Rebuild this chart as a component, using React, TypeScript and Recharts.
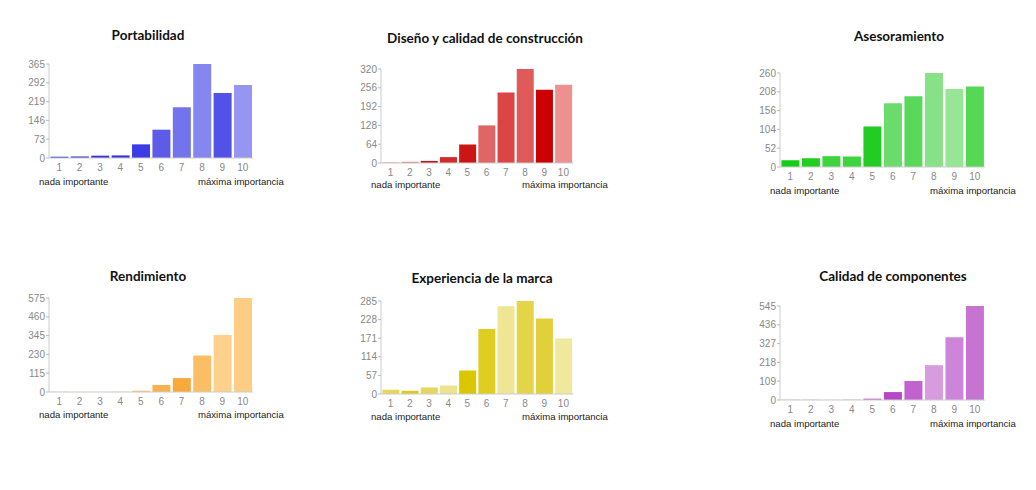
import React from 'react';
import { BarChart, Bar, XAxis, YAxis, Cell } from 'recharts';

const categories = ['1', '2', '3', '4', '5', '6', '7', '8', '9', '10'];

const portabilidad = [5, 6, 9, 10, 53, 110, 197, 365, 252, 283];
const diseno = [2, 4, 7, 20, 63, 128, 240, 320, 249, 266];
const asesoramiento = [19, 24, 30, 29, 112, 176, 196, 260, 216, 223];
const rendimiento = [2, 1, 1, 2, 8, 43, 85, 223, 348, 575];
const experiencia = [13, 10, 20, 26, 72, 199, 269, 285, 231, 170];
const componentes = [1, 2, 1, 2, 8, 46, 110, 202, 364, 545];

const titles = [
  'Portabilidad',
  'Diseño y calidad de construcción',
  'Asesoramiento',
  'Rendimiento',
  'Experiencia de la marca',
  'Calidad de componentes',
];
const yMaxes = [365, 320, 260, 575, 285, 545];
const lowLabel = 'nada importante';
const highLabel = 'máxima importancia';

const palettes = [
  ['#3a3ad8', '#3a3ad8', '#3535d6', '#3535d6', '#3c3ce6', '#5c5ce8', '#7373ec', '#8686f0', '#5252e6', '#9696f2'],
  ['#e08080', '#e07070', '#cc1010', '#d42a2a', '#cc1515', '#e06666', '#dc4545', '#e05a5a', '#cc0000', '#ec9090'],
  ['#16cc16', '#1fcf1f', '#3dd43d', '#3dd43d', '#22cc22', '#6bdc6b', '#5ad85a', '#87e287', '#96e696', '#55d955'],
  ['#fcd08a', '#fcd08a', '#fcd08a', '#fcd08a', '#fbbf66', '#f9b24e', '#f7a93a', '#fbbe66', '#fdd08c', '#fdcd84'],
  ['#e6d65a', '#dccb20', '#e5d65e', '#ece38c', '#dbc600', '#e0cd22', '#efe695', '#e4d548', '#e2d03a', '#f0e89c'],
  ['#c880d4', '#c880d4', '#c880d4', '#c880d4', '#c263d0', '#b948c8', '#c262d0', '#d89be0', '#cd85d9', '#c673d2'],
];

const seriesList = [portabilidad, diseno, asesoramiento, rendimiento, experiencia, componentes];

// layout: plot box [x0, x1, yTop, yBottom], title center [x, y], label lefts & y
const layouts = [
  { plot: [49, 253, 64, 158], title: [148, 35], labels: [39, 198, 182] },
  { plot: [381, 573, 69, 163], title: [485, 38], labels: [371, 522, 185] },
  { plot: [780, 985, 73, 167], title: [899, 36], labels: [770, 930, 191] },
  { plot: [49, 253, 298, 392], title: [148, 276], labels: [39, 198, 415] },
  { plot: [381, 573, 301, 394], title: [482, 278], labels: [371, 522, 417] },
  { plot: [780, 985, 306, 400], title: [893, 276], labels: [770, 930, 424] },
];

const Y_W = 30;
const M_TOP = 5;
const M_RIGHT = 5;
const X_H = 22;

function Panel({ idx }: { idx: number }) {
  const lay = layouts[idx];
  const [x0, x1, yt, yb] = lay.plot;
  const values = seriesList[idx];
  const data = categories.map((c, i) => ({ cat: c, v: values[i] }));
  const max = yMaxes[idx];
  const ticks = [0, 1, 2, 3, 4, 5].map((k) => Math.round((max * k) / 5));
  const width = x1 - x0 + Y_W + M_RIGHT;
  const height = yb - yt + M_TOP + X_H;
  const pal = palettes[idx];
  const labelStyle: React.CSSProperties = {
    position: 'absolute',
    top: lay.labels[2] - 7,
    fontFamily: 'Liberation Sans, Arial, sans-serif',
    fontSize: 9.6,
    lineHeight: '14px',
    color: '#222',
    whiteSpace: 'nowrap',
  };
  return (
    <>
      <div
        style={{
          position: 'absolute',
          left: lay.title[0] - 150,
          top: lay.title[1] - 10,
          width: 300,
          textAlign: 'center',
          fontFamily: 'Lato, sans-serif',
          fontWeight: 700,
          fontSize: 13.5,
          lineHeight: '20px',
          color: '#111',
        }}
      >
        {titles[idx]}
      </div>
      <div style={{ position: 'absolute', left: x0 - Y_W, top: yt - M_TOP }}>
        <BarChart
          width={width}
          height={height}
          data={data}
          margin={{ top: M_TOP, right: M_RIGHT, left: 0, bottom: 0 }}
          barCategoryGap="7%"
        >
          <XAxis
            dataKey="cat"
            height={X_H}
            interval={0}
            tickLine={false}
            tickSize={3}
            tickMargin={3}
            axisLine={{ stroke: '#cccccc' }}
            tick={{ fill: '#888', fontSize: 10, fontFamily: 'Liberation Sans, Arial, sans-serif' }}
          />
          <YAxis
            width={Y_W}
            domain={[0, max]}
            ticks={ticks}
            interval={0}
            allowDataOverflow
            tickSize={3}
            tickMargin={1}
            axisLine={{ stroke: '#cccccc' }}
            tickLine={{ stroke: '#bbbbbb' }}
            tick={{ fill: '#888', fontSize: 10, fontFamily: 'Liberation Sans, Arial, sans-serif' }}
          />
          <Bar dataKey="v" isAnimationActive={false}>
            {data.map((d, i) => (
              <Cell key={d.cat} fill={pal[i]} />
            ))}
          </Bar>
        </BarChart>
      </div>
      <div style={{ ...labelStyle, left: lay.labels[0] }}>{lowLabel}</div>
      <div style={{ ...labelStyle, left: lay.labels[1] }}>{highLabel}</div>
    </>
  );
}

export default function App() {
  return (
    <div
      style={{
        position: 'absolute',
        left: 0,
        top: 0,
        width: 1036,
        height: 490,
        background: '#ffffff',
        overflow: 'hidden',
      }}
    >
      {[0, 1, 2, 3, 4, 5].map((i) => (
        <Panel key={i} idx={i} />
      ))}
    </div>
  );
}
